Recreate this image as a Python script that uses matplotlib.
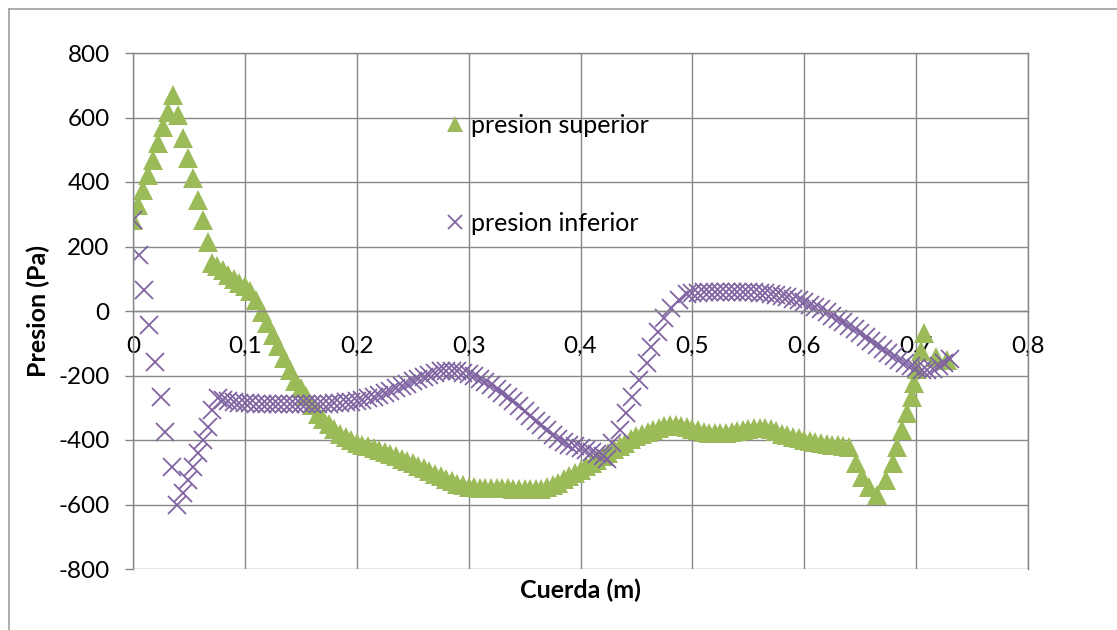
import matplotlib
matplotlib.use("Agg")
import matplotlib.pyplot as plt
from matplotlib.lines import Line2D
from matplotlib.ticker import FuncFormatter

plt.rcParams["font.family"] = ["Lato", "DejaVu Sans"]
plt.rcParams["axes.unicode_minus"] = False

GREEN = "#9bbb59"
PURPLE = "#8064a2"
GRID = "#868686"

# presion superior (extrados)
sup_x = [0.000, 0.0045, 0.009, 0.0134, 0.018, 0.0223, 0.0268, 0.0313, 0.0357,
         0.040, 0.0446, 0.049, 0.0536, 0.058, 0.0625, 0.067, 0.071,
         0.075, 0.080, 0.085, 0.090, 0.095, 0.100, 0.105, 0.110, 0.115, 0.120,
         0.125, 0.130, 0.135, 0.140, 0.145, 0.150, 0.155, 0.160, 0.165, 0.170,
         0.175, 0.180, 0.185, 0.190, 0.195, 0.200, 0.205, 0.210, 0.215, 0.220,
         0.225, 0.230, 0.235, 0.240, 0.245, 0.250, 0.255, 0.260, 0.265, 0.270,
         0.275, 0.280, 0.285, 0.290, 0.295, 0.300, 0.305, 0.310, 0.315, 0.320,
         0.325, 0.330, 0.335, 0.340, 0.345, 0.350, 0.355, 0.360, 0.365, 0.370,
         0.375, 0.380, 0.385, 0.390, 0.395, 0.400, 0.405, 0.410, 0.415, 0.420,
         0.425, 0.430, 0.435, 0.440, 0.445, 0.450, 0.455, 0.460, 0.465, 0.470,
         0.475, 0.480, 0.485, 0.490, 0.495, 0.500, 0.505, 0.510, 0.515, 0.520,
         0.525, 0.530, 0.535, 0.540, 0.545, 0.550, 0.555, 0.560, 0.565, 0.570,
         0.575, 0.580, 0.585, 0.590, 0.595, 0.600, 0.605, 0.610, 0.615, 0.620,
         0.625, 0.630, 0.635, 0.640,
         0.646, 0.652, 0.658, 0.665, 0.673, 0.679, 0.683, 0.6875, 0.692, 0.696,
         0.698, 0.701, 0.704, 0.707, 0.718, 0.728]
sup_y = [283, 329, 376, 422, 469, 522, 571, 618, 671,
         609, 537, 475, 413, 345, 283, 214, 149,
         138, 126, 113, 100, 88, 76, 63, 35, -2, -38,
         -74, -110, -146, -182, -216, -240, -263, -290, -318, -335,
         -351, -366, -380, -392, -401, -408, -414, -420, -425, -430,
         -437, -444, -451, -458, -465, -472, -480, -488, -496, -504,
         -512, -520, -528, -535, -541, -546, -547, -548, -548, -549,
         -549, -550, -550, -551, -551, -552, -553, -553, -551, -547,
         -540, -532, -522, -512, -502, -492, -482, -472, -462, -451,
         -440, -429, -418, -408, -398, -389, -381, -374, -368, -362,
         -358, -355, -354, -356, -360, -365, -370, -374, -377, -379,
         -379, -377, -374, -371, -368, -365, -363, -362, -363, -367,
         -373, -380, -386, -391, -395, -399, -402, -405, -408, -411,
         -414, -417, -420, -423,
         -472, -516, -547, -571, -525, -472, -422, -370, -317, -267,
         -224, -180, -125, -68, -143, -152]

# presion inferior (intrados)
inf_x = [0.000, 0.005, 0.0098, 0.0143, 0.0196, 0.025, 0.0286, 0.0348, 0.039,
         0.0446, 0.049, 0.0536, 0.058, 0.0625, 0.067, 0.071, 0.076,
         0.080, 0.085, 0.090, 0.095, 0.100, 0.105, 0.110, 0.115, 0.120, 0.125,
         0.130, 0.135, 0.140, 0.145, 0.150, 0.155, 0.160, 0.165, 0.170, 0.175,
         0.180, 0.185, 0.190, 0.195, 0.200, 0.205, 0.210, 0.215, 0.220, 0.225,
         0.230, 0.235, 0.240, 0.245, 0.250, 0.255, 0.260, 0.265, 0.270, 0.275,
         0.280, 0.285, 0.290, 0.295, 0.300, 0.305, 0.310, 0.315, 0.320, 0.325,
         0.330, 0.335, 0.340, 0.345, 0.350, 0.355, 0.360, 0.365, 0.370, 0.375,
         0.380, 0.385, 0.390, 0.395, 0.400, 0.405, 0.410, 0.415, 0.420, 0.424,
         0.4286, 0.435, 0.441, 0.446, 0.4527, 0.459, 0.4634, 0.469, 0.475,
         0.481, 0.488, 0.4955,
         0.500, 0.505, 0.510, 0.515, 0.520, 0.525, 0.530, 0.535, 0.540, 0.545,
         0.550, 0.555, 0.560, 0.565, 0.570, 0.575, 0.580, 0.585, 0.590, 0.595,
         0.600, 0.605, 0.610, 0.615, 0.620, 0.625, 0.630, 0.635, 0.640, 0.645,
         0.650, 0.655, 0.660, 0.665, 0.670, 0.675, 0.680, 0.685, 0.690, 0.695,
         0.700, 0.705, 0.710, 0.715, 0.720, 0.725, 0.730]
inf_y = [283, 174, 65, -43, -158, -267, -376, -485, -600,
         -565, -525, -484, -441, -400, -360, -307, -270,
         -275, -279, -282, -284, -285, -286, -287, -287, -287, -287,
         -287, -287, -287, -287, -287, -287, -287, -287, -287, -287,
         -286, -285, -283, -281, -278, -275, -271, -266, -261, -254,
         -247, -240, -232, -225, -218, -211, -204, -197, -191, -187,
         -185, -185, -187, -191, -196, -203, -211, -220, -230, -241,
         -253, -266, -280, -295, -310, -325, -340, -355, -370, -384,
         -396, -406, -414, -420, -425, -430, -436, -442, -450, -458,
         -410, -370, -317, -267, -214, -162, -112, -65, -22,
         9, 34, 52,
         55, 57, 58, 58, 58, 58, 58, 58, 58, 58,
         58, 58, 57, 56, 54, 51, 47, 43, 38, 33,
         27, 20, 13, 5, -4, -14, -24, -35, -46, -57,
         -69, -81, -93, -105, -117, -129, -141, -152, -162, -171,
         -178, -182, -184, -180, -172, -162, -150]

x_ticks = [0, 0.1, 0.2, 0.3, 0.4, 0.5, 0.6, 0.7, 0.8]
y_ticks = [-800, -600, -400, -200, 0, 200, 400, 600, 800]

W, H = 1117, 630
fig = plt.figure(figsize=(W / 100, H / 100), dpi=100)
ax = fig.add_axes([133 / W, 1 - 569 / H, (1028 - 133) / W, (569 - 53) / H])

# borde del area del grafico (recortado a la derecha y abajo)
fig.add_artist(Line2D([8.5 / W, 1], [1 - 8.5 / H, 1 - 8.5 / H],
                      transform=fig.transFigure, color="#a0a0a0", lw=1.2))
fig.add_artist(Line2D([8.5 / W, 8.5 / W], [0, 1 - 8.5 / H],
                      transform=fig.transFigure, color="#a0a0a0", lw=1.2))

ax.plot(sup_x, sup_y, linestyle="none", marker="^", ms=14.4, mew=0,
        color=GREEN, label="presion superior")
ax.plot(inf_x, inf_y, linestyle="none", marker="x", ms=13, mew=1.3,
        color=PURPLE, label="presion inferior")

ax.set_xlim(0, 0.8)
ax.set_ylim(-800, 800)
ax.set_xticks(x_ticks)
ax.set_yticks(y_ticks)
ax.xaxis.set_major_formatter(FuncFormatter(lambda v, p: ("%g" % v).replace(".", ",")))
ax.grid(True, color=GRID, lw=1.0)
ax.set_axisbelow(True)

for s in ["left", "right", "top"]:
    ax.spines[s].set_color(GRID)
    ax.spines[s].set_linewidth(1.0)
ax.spines["bottom"].set_position(("data", 0))
ax.spines["bottom"].set_color(GRID)
ax.spines["bottom"].set_linewidth(1.0)

ax.tick_params(axis="y", direction="out", length=5.8, width=1.0, color=GRID,
               pad=11, labelsize=17.5)
ax.tick_params(axis="x", length=0, pad=18, labelsize=17.5)

ax.set_xlabel("Cuerda (m)", fontsize=18, fontweight="bold", va="center")
ax.xaxis.set_label_coords(0.5, -(590 - 569) / 516)
ax.set_ylabel("Presion (Pa)", fontsize=18, fontweight="bold", va="center")
ax.yaxis.set_label_coords(-(133 - 38) / 895, 0.5)

ax.legend(loc="upper left", bbox_to_anchor=(447 / W, 1 - 114 / H),
          bbox_transform=fig.transFigure, frameon=False, fontsize=18,
          markerscale=0.8, handlelength=0.65, handletextpad=0.3,
          labelspacing=3.0, borderpad=0, borderaxespad=0)

fig.savefig("out.png", dpi=100)
